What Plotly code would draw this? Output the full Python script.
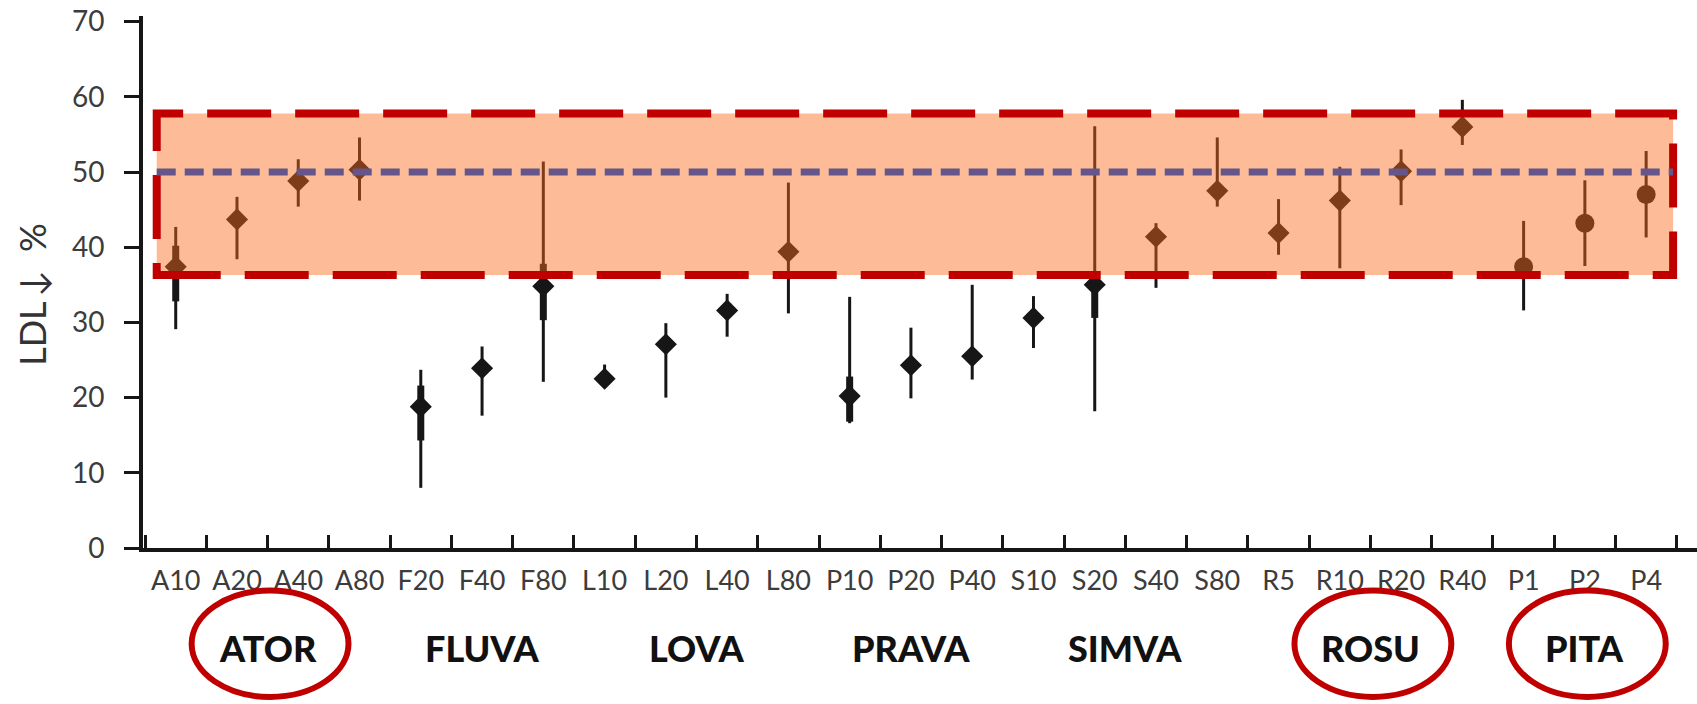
import plotly.graph_objects as go

# Statin doses (x categories)
doses = ["A10", "A20", "A40", "A80",
         "F20", "F40", "F80",
         "L10", "L20", "L40", "L80",
         "P10", "P20", "P40",
         "S10", "S20", "S40", "S80",
         "R5", "R10", "R20", "R40",
         "P1", "P2", "P4"]

# Mean LDL reduction (%) and whisker range per dose
ldl_mean = [37.4, 43.7, 48.8, 50.3,
            18.8, 23.9, 34.8,
            22.5, 27.1, 31.6, 39.4,
            20.2, 24.3, 25.5,
            30.6, 35.0, 41.4, 47.5,
            41.9, 46.2, 50.1, 56.0,
            37.4, 43.2, 47.0]
ldl_low = [29.1, 38.4, 45.4, 46.2,
           8.0, 17.6, 22.1,
           21.9, 20.0, 28.1, 31.2,
           16.6, 19.9, 22.4,
           26.6, 18.2, 34.6, 45.4,
           39.0, 37.2, 45.6, 53.6,
           31.6, 37.5, 41.3]
ldl_high = [42.7, 46.7, 51.7, 54.6,
            23.7, 26.8, 51.4,
            24.4, 29.9, 33.8, 48.6,
            33.4, 29.3, 35.0,
            33.5, 56.1, 43.2, 54.6,
            46.4, 50.7, 53.0, 59.6,
            43.5, 48.9, 52.8]

# Inner (heavier) interval, only reported for some doses
inner_low = [32.8, None, None, None,
             14.3, None, 30.3,
             None, None, None, None,
             16.8, None, None,
             None, 30.6, None, None,
             None, None, None, None,
             None, None, None]
inner_high = [40.2, None, None, None,
              21.6, None, 37.8,
              None, None, None, None,
              22.8, None, None,
              None, 35.6, None, None,
              None, None, None, None,
              None, None, None]

# Drug groups, in the order of the doses above
groups = ["ATOR", "FLUVA", "LOVA", "PRAVA", "SIMVA", "ROSU", "PITA"]
group_sizes = [4, 3, 4, 3, 4, 4, 3]
highlighted = ["ATOR", "ROSU", "PITA"]

# Target band and reference level (% LDL reduction)
band_low, band_high = 36.3, 57.8
target_level = 50

y_ticks = [0, 10, 20, 30, 40, 50, 60, 70]

INK = "#161616"
RED = "#C00000"
FONT = "Lato"

# group of each dose, and group centre positions on the category axis
dose_group = []
group_centers = []
start = 0
for g, n in zip(groups, group_sizes):
    dose_group += [g] * n
    group_centers.append(start + (n - 1) / 2)
    start += n

symbols = ["circle" if g == "PITA" else "diamond" for g in dose_group]
sizes = [19 if g == "PITA" else 17 for g in dose_group]

fig = go.Figure()

# thin whiskers
fig.add_trace(go.Scatter(
    x=doses, y=ldl_mean, mode="markers",
    marker=dict(size=1, opacity=0),
    error_y=dict(type="data", symmetric=False,
                 array=[h - m for h, m in zip(ldl_high, ldl_mean)],
                 arrayminus=[m - l for m, l in zip(ldl_mean, ldl_low)],
                 width=0, thickness=3, color=INK),
    hoverinfo="skip", showlegend=False))

# heavier inner interval
inner_x, inner_y, inner_up, inner_dn = [], [], [], []
for d, m, lo, hi in zip(doses, ldl_mean, inner_low, inner_high):
    if lo is not None:
        inner_x.append(d)
        inner_y.append(m)
        inner_up.append(hi - m)
        inner_dn.append(m - lo)
fig.add_trace(go.Scatter(
    x=inner_x, y=inner_y, mode="markers",
    marker=dict(size=1, opacity=0),
    error_y=dict(type="data", symmetric=False, array=inner_up,
                 arrayminus=inner_dn, width=0, thickness=7, color=INK),
    hoverinfo="skip", showlegend=False))

# mean markers
fig.add_trace(go.Scatter(
    x=doses, y=ldl_mean, mode="markers",
    marker=dict(symbol=symbols, size=sizes, color=INK, opacity=1,
                line=dict(width=0)),
    showlegend=False))

shapes = []
# shaded target band with dashed border, drawn over the data
shapes.append(dict(type="rect", xref="x", yref="y",
                   x0=-0.31, x1=24.44, y0=band_low, y1=band_high,
                   fillcolor="rgba(250,108,28,0.46)",
                   line=dict(color=RED, width=8, dash="64px,24px"),
                   layer="above"))
# reference level
shapes.append(dict(type="line", xref="x", yref="y",
                   x0=-0.31, x1=24.44, y0=target_level, y1=target_level,
                   line=dict(color="#65558A", width=7, dash="19px,9px"),
                   layer="above"))

annotations = []
for g, cx in zip(groups, group_centers):
    annotations.append(dict(
        text=g, x=cx, y=-0.188, xref="x", yref="paper",
        xanchor="center", yanchor="middle", showarrow=False,
        font=dict(family=FONT, size=36, color="#111111", weight=900)))
    if g in highlighted:
        shapes.append(dict(type="circle", xref="x", yref="paper",
                           x0=cx - 1.24, x1=cx + 1.32,
                           y0=-0.28, y1=-0.08,
                           line=dict(color=RED, width=6),
                           layer="above"))

annotations.append(dict(
    text="LDL\u2009\u2193\u2002%", x=-0.0714, y=0.476,
    xref="paper", yref="paper", textangle=-90,
    xanchor="center", yanchor="middle", showarrow=False,
    font=dict(family=FONT, size=36, color="#333333")))

fig.update_layout(
    width=1697, height=704,
    margin=dict(l=143, r=0, t=16, b=156),
    paper_bgcolor="white", plot_bgcolor="white",
    shapes=shapes, annotations=annotations,
    xaxis=dict(type="category", categoryorder="array", categoryarray=doses,
               range=[-0.534, 24.83],
               showline=True, linewidth=4, linecolor=INK,
               ticks="inside", tickson="boundaries", ticklen=13,
               tickwidth=2.5, tickcolor=INK,
               tickfont=dict(family=FONT, size=27, color="#3c3c3c"),
               ticklabelstandoff=6,
               showgrid=False, zeroline=False),
    yaxis=dict(range=[0, 70.75], tickvals=y_ticks,
               showline=True, linewidth=4, linecolor=INK,
               ticks="outside", ticklen=15, tickwidth=3, tickcolor=INK,
               tickfont=dict(family=FONT, size=28, color="#3c3c3c"),
               ticklabelstandoff=14,
               showgrid=False, zeroline=False),
)

fig.write_html("out.html")
